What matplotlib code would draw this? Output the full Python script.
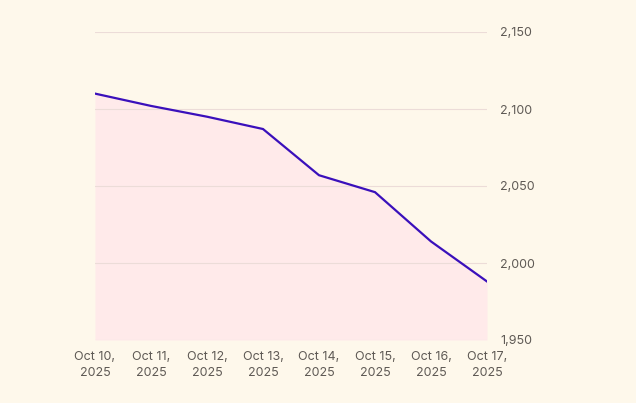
import matplotlib
matplotlib.use("Agg")
import matplotlib.pyplot as plt
import numpy as np

dates = ["Oct 10,\n2025", "Oct 11,\n2025", "Oct 12,\n2025", "Oct 13,\n2025",
         "Oct 14,\n2025", "Oct 15,\n2025", "Oct 16,\n2025", "Oct 17,\n2025"]
values = [2110, 2102, 2095, 2087, 2057, 2046, 2014, 1988]
yticks = [1950, 2000, 2050, 2100, 2150]

plt.rcParams['font.family'] = ['Inter', 'DejaVu Sans']

bg = "#fef8eb"
fig = plt.figure(figsize=(6.36, 4.03), dpi=100, facecolor=bg)
ax = fig.add_axes([95/636, (403-340)/403, (487-95)/636, (340-32)/403])
ax.set_facecolor(bg)

x = np.arange(len(values))
ax.fill_between(x, values, 1950, color="#ffeaea", linewidth=0, zorder=1)
ax.plot(x, values, color="#3a10bb", linewidth=1.6, zorder=3, solid_joinstyle="miter")

ax.set_xlim(0, len(values) - 1)
ax.set_ylim(1950, 2150)
ax.set_yticks(yticks)
ax.set_yticklabels([f"{v:,}" for v in yticks])
ax.set_xticks(x)
ax.set_xticklabels(dates)
ax.yaxis.tick_right()
ax.grid(axis="y", color="#ecdcd8", linewidth=0.8, zorder=2)
ax.set_axisbelow(False)
for s in ax.spines.values():
    s.set_visible(False)
ax.tick_params(axis="both", length=0, labelsize=9, colors="#5f5a55")
ax.tick_params(axis="y", pad=9.5)
ax.tick_params(axis="x", pad=8)
for t in ax.get_xticklabels():
    t.set_linespacing(1.45)

fig.savefig("out.png", dpi=100, facecolor=bg)
